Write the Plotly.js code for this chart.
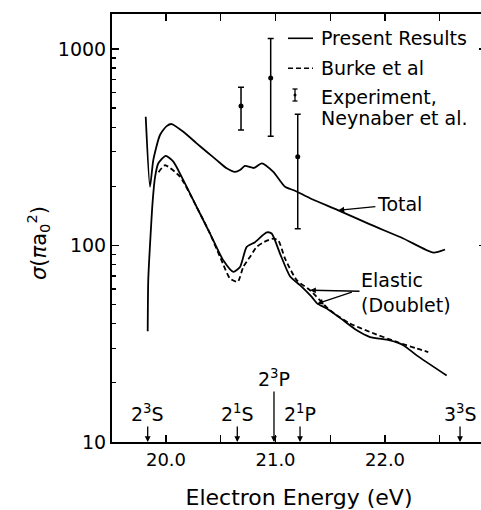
<!DOCTYPE html>
<html>
<head>
<meta charset="utf-8">
<script src="https://cdn.plot.ly/plotly-3.0.1.min.js"></script>
<style>html,body{margin:0;padding:0;background:#fff;overflow:hidden;width:481px;height:510px;}#wrap{width:481px;height:510px;overflow:hidden;}#chart{width:486px;height:510px;}</style>
</head>
<body>
<div id="wrap"><div id="chart"></div></div>
<script>
// Total cross section (Present Results)
const totalE = [19.815, 19.854, 19.884, 19.945, 20.006, 20.052, 20.158, 20.280, 20.371, 20.463, 20.554, 20.630, 20.676, 20.721, 20.804, 20.874, 20.980, 21.087, 21.178, 21.315, 21.574, 21.863, 22.167, 22.441, 22.548];
const totalS = [452, 199, 272, 365, 405, 415, 379, 331, 300, 272, 247, 237, 242, 254, 248, 262, 237, 199, 190, 174, 151, 128, 108.6, 92, 95.4];

// Elastic (Doublet), Present Results
const elE = [19.833, 19.838, 19.860, 19.879, 19.900, 19.930, 19.997, 20.067, 20.158, 20.280, 20.402, 20.523, 20.615, 20.676, 20.737, 20.813, 20.920, 20.965, 21.041, 21.132, 21.224, 21.331, 21.382, 21.468, 21.619, 21.742, 21.863, 22.046, 22.167, 22.289, 22.563];
const elS = [36.6, 66.6, 115, 170, 223, 262, 286, 267, 215, 157, 115, 84, 73.4, 77.8, 98.4, 104, 116.5, 115, 91, 69.8, 62.8, 54.7, 50.6, 47.8, 41.6, 37.0, 34.2, 32.9, 31.1, 27.6, 21.8];

// Elastic (Doublet), Burke et al
const bE = [19.932, 19.991, 20.128, 20.280, 20.402, 20.523, 20.584, 20.655, 20.706, 20.776, 20.828, 20.898, 20.980, 21.026, 21.087, 21.194, 21.315, 21.498, 21.680, 21.863, 22.107, 22.289, 22.395];
const bS = [236, 256, 224, 157, 115, 80, 67.9, 65.3, 77.8, 89, 98.4, 104.3, 108.5, 106, 85.8, 66.6, 59.2, 46.8, 40.1, 36.3, 32.3, 29.9, 28.7];

// Experiment, Neynaber et al.
const expE = [20.685, 20.956, 21.203];
const expS = [512, 711, 283];
const expHi = [638, 1129, 466];
const expLo = [387, 360, 121.5];

// Threshold levels
const levelE = [19.833, 20.651, 20.986, 21.224, 22.685];
const levelText = ['2<sup>3</sup>S', '2<sup>1</sup>S', '2<sup>3</sup>P', '2<sup>1</sup>P', '3<sup>3</sup>S'];
const levelRaise = [-29, -29, -64, -29, -29];

// Axis ticks
const xTickVals = [20.0, 20.5, 21.0, 21.5, 22.0, 22.5];
const xTickText = ['20.0', '', '21.0', '', '22.0', ''];
const yTickVals = [10, 100, 1000];
const yTickText = ['10', '100', '1000'];
const yMinorVals = [];
[10, 100, 1000].forEach(d => { for (let k = 2; k <= 9; k++) yMinorVals.push(k * d); });

const FONT = 'DejaVu Sans, Arial, sans-serif';
const lineW = 1.8;

const traces = [
  {x: totalE, y: totalS, mode: 'lines', line: {color: '#000', width: lineW, shape: 'spline', smoothing: 0.6}, name: 'Present Results', showlegend: false},
  {x: elE, y: elS, mode: 'lines', line: {color: '#000', width: lineW, shape: 'spline', smoothing: 0.6}, name: 'Present Results (elastic)', showlegend: false},
  {x: bE, y: bS, mode: 'lines', line: {color: '#000', width: lineW, dash: '5px,3px', shape: 'spline', smoothing: 0.6}, name: 'Burke et al', showlegend: false},
  {x: expE, y: expS, mode: 'markers', marker: {color: '#000', size: 5},
   error_y: {type: 'data', symmetric: false,
     array: expE.map((_, i) => expHi[i] - expS[i]),
     arrayminus: expE.map((_, i) => expS[i] - expLo[i]),
     color: '#000', thickness: 1.5, width: 3},
   name: 'Experiment, Neynaber et al.', showlegend: false}
];

// pixel helpers for legend glyphs (paper coords)
const W = 486, H = 510;
const L = 112, R = 486, T = 14, B = 442;
const px = v => (v - L) / (R - L);
const py = v => (B - v) / (B - T);

const annotations = [];
levelE.forEach((e, i) => {
  annotations.push({x: e, y: 1, xref: 'x', yref: 'y', text: levelText[i], showarrow: true,
    ax: 0, ay: levelRaise[i], arrowhead: 2, arrowsize: 0.9, arrowwidth: 1.3, arrowcolor: '#000',
    font: {family: FONT, size: 19, color: '#000'}});
});
annotations.push({x: totalE[20], y: Math.log10(totalS[20]), text: 'Total', showarrow: true,
  ax: 61, ay: -6, arrowhead: 2, arrowsize: 0.9, arrowwidth: 1.3, arrowcolor: '#000',
  font: {family: FONT, size: 19, color: '#000'}});
annotations.push({x: bE[16], y: Math.log10(bS[16]), text: 'Elastic<br>(Doublet)', align: 'left', showarrow: true,
  ax: 96, ay: 2, arrowhead: 2, arrowsize: 0.9, arrowwidth: 1.3, arrowcolor: '#000',
  font: {family: FONT, size: 19, color: '#000'}});
annotations.push({x: elE[22], y: Math.log10(elS[22]), text: '', showarrow: true,
  ax: 36, ay: -12, arrowhead: 2, arrowsize: 0.9, arrowwidth: 1.3, arrowcolor: '#000'});
// y-axis title
annotations.push({xref: 'paper', yref: 'paper', x: px(38), y: py(243), xanchor: 'center', yanchor: 'middle',
  text: '<i>σ</i>(<i>π</i>a<sub>0</sub><sup>2</sup>)', textangle: -90, showarrow: false,
  font: {family: FONT, size: 21, color: '#000'}});
// legend text
const legendText = ['Present Results', 'Burke et al', 'Experiment,', 'Neynaber et al.'];
const legendY = [38.3, 68.3, 96.7, 118.3];
legendText.forEach((t, i) => {
  annotations.push({xref: 'paper', yref: 'paper', x: px(319), y: py(legendY[i]), xanchor: 'left', yanchor: 'middle',
    text: t, showarrow: false, font: {family: FONT, size: 19, color: '#000'}});
});

const shapes = [
  {type: 'line', xref: 'paper', yref: 'paper', x0: px(288), x1: px(313), y0: py(38.3), y1: py(38.3), line: {color: '#000', width: 1.6}},
  {type: 'line', xref: 'paper', yref: 'paper', x0: px(288), x1: px(313), y0: py(68.3), y1: py(68.3), line: {color: '#000', width: 1.6, dash: '5px,3px'}},
  {type: 'line', xref: 'paper', yref: 'paper', x0: px(295), x1: px(295), y0: py(89), y1: py(101), line: {color: '#000', width: 1.3}},
  {type: 'line', xref: 'paper', yref: 'paper', x0: px(292.5), x1: px(297.5), y0: py(89), y1: py(89), line: {color: '#000', width: 1.3}},
  {type: 'line', xref: 'paper', yref: 'paper', x0: px(292.5), x1: px(297.5), y0: py(101), y1: py(101), line: {color: '#000', width: 1.3}},
  {type: 'circle', xref: 'paper', yref: 'paper', x0: px(293.5), x1: px(296.5), y0: py(93.5), y1: py(96.5), fillcolor: '#000', line: {color: '#000', width: 0}}
];

const layout = {
  width: W, height: H,
  margin: {l: L, r: W - R, t: T, b: H - B},
  paper_bgcolor: '#fff', plot_bgcolor: '#fff',
  font: {family: FONT, color: '#000'},
  showlegend: false,
  xaxis: {
    range: [19.507, 22.922], showgrid: false, zeroline: false,
    showline: true, linecolor: '#000', linewidth: 2, mirror: 'ticks',
    ticks: 'inside', ticklen: 7, tickwidth: 1.3, tickcolor: '#000',
    tickmode: 'array', tickvals: xTickVals, ticktext: xTickText,
    tickfont: {family: FONT, size: 18, color: '#000'},
    title: {text: 'Electron Energy (eV)', font: {family: FONT, size: 22, color: '#000'}, standoff: 22}
  },
  yaxis: {
    type: 'log', range: [1, 3.178], showgrid: false, zeroline: false,
    showline: true, linecolor: '#000', linewidth: 2, mirror: 'ticks',
    ticks: 'inside', ticklen: 7, tickwidth: 1.3, tickcolor: '#000',
    tickmode: 'array', tickvals: yTickVals, ticktext: yTickText,
    minor: {tickmode: 'array', tickvals: yMinorVals, ticks: 'inside', ticklen: 4, tickwidth: 1.3, tickcolor: '#000'},
    tickfont: {family: FONT, size: 19, color: '#000'}
  },
  annotations: annotations,
  shapes: shapes
};

Plotly.newPlot('chart', traces, layout, {staticPlot: true, displayModeBar: false});
</script>
</body>
</html>
